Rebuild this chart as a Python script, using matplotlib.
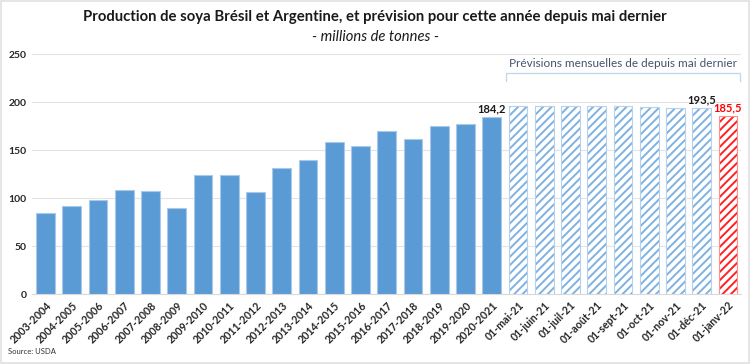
import matplotlib
matplotlib.use("Agg")
import matplotlib.pyplot as plt
from matplotlib.patches import Rectangle

plt.rcParams['font.family'] = ['Lato', 'DejaVu Sans']

seasons = ["2003-2004", "2004-2005", "2005-2006", "2006-2007", "2007-2008",
           "2008-2009", "2009-2010", "2010-2011", "2011-2012", "2012-2013",
           "2013-2014", "2014-2015", "2015-2016", "2016-2017", "2017-2018",
           "2018-2019", "2019-2020", "2020-2021"]
season_values = [84, 92, 97.5, 108, 107, 89.6, 123.6, 124.3, 106.6, 131,
                 140, 158, 154.5, 170, 161, 175, 177, 184.2]

forecast_months = ["01-mai-21", "01-juin-21", "01-juil-21", "01-août-21",
                   "01-sept-21", "01-oct-21", "01-nov-21", "01-déc-21"]
forecast_values = [196, 196, 196, 196, 196, 195, 194, 193.5]

latest_month = "01-janv-22"
latest_value = 185.5

yticks = [0, 50, 100, 150, 200, 250]

fig = plt.figure(figsize=(7.5, 3.64), dpi=100)
ax = fig.add_axes([0.0432, 0.1923, 0.945, 0.6593])

plt.rcParams['hatch.linewidth'] = 1.4

n_s = len(seasons)
n_f = len(forecast_months)
x_s = list(range(n_s))
x_f = list(range(n_s, n_s + n_f))
x_l = n_s + n_f
w = 0.72

ax.bar(x_s, season_values, width=w, color="#5b9bd5", edgecolor="#a9c9ea",
       linewidth=0.8, zorder=3)
ax.bar(x_f, forecast_values, width=w, color="white", edgecolor="#7fb2e0",
       hatch="////", linewidth=0.0, zorder=3)
ax.bar(x_f, forecast_values, width=w, color="none", edgecolor="#b4d1ee",
       linewidth=0.8, zorder=4)
ax.bar([x_l], [latest_value], width=w, color="white", edgecolor="#ff2020",
       hatch="////", linewidth=0.0, zorder=3)
ax.bar([x_l], [latest_value], width=w, color="none", edgecolor="#ff9090",
       linewidth=0.8, zorder=4)

ax.set_xlim(-0.5, x_l + 0.5)
ax.set_ylim(0, 250)
ax.set_yticks(yticks)
ax.set_yticklabels([str(v) for v in yticks], fontsize=7.5, fontweight="bold",
                   color="#262626")
ax.yaxis.grid(True, color="#e3e3e3", linewidth=0.8, zorder=0)
ax.set_axisbelow(True)
for s in ax.spines.values():
    s.set_visible(False)
ax.spines['bottom'].set_visible(True)
ax.spines['bottom'].set_color("#d9d9d9")
ax.tick_params(axis='both', length=0, pad=4)

labels = seasons + forecast_months + [latest_month]
ax.set_xticks(range(len(labels)))
ax.set_xticklabels(labels, rotation=45, ha="right", rotation_mode="anchor",
                   fontsize=7.7, fontweight="bold", color="#262626")

def fmt(v):
    return f"{v:.1f}".replace(".", ",")

ax.text(x_s[-1], season_values[-1] + 3, fmt(season_values[-1]), ha="center",
        va="bottom", fontsize=8, fontweight="bold", color="#1a1a1a")
ax.text(x_f[-1], forecast_values[-1] + 3, fmt(forecast_values[-1]), ha="center",
        va="bottom", fontsize=8, fontweight="bold", color="#1a1a1a")
ax.text(x_l, latest_value + 3, fmt(latest_value), ha="center",
        va="bottom", fontsize=8, fontweight="bold", color="#ff0000")

# bracket with annotation
bx0, bx1 = x_f[0] - 0.45, x_l + 0.45
ax.text((bx0 + bx1) / 2, 240, "Prévisions mensuelles de depuis mai dernier",
        ha="center", va="center", fontsize=8.5, color="#44546a")
ax.plot([bx0, bx0, bx1, bx1], [222, 230, 230, 222], color="#bdd7ee",
        linewidth=0.9, clip_on=False, zorder=2)

fig.text(0.5, 0.952, "Production de soya Brésil et Argentine, et prévision pour cette année depuis mai dernier",
         ha="center", va="center", fontsize=10.7, fontweight="bold", color="#1a1a1a")
fig.text(0.5, 0.898, "- millions de tonnes -", ha="center", va="center",
         fontsize=10.6, style="italic", color="#1a1a1a")
fig.text(0.011, 0.035, "Source: USDA", ha="left", va="center", fontsize=5.5,
         color="#333333")

fig.patches.append(Rectangle((0.001, 0.003), 0.997, 0.994, transform=fig.transFigure,
                             fill=False, edgecolor="#e0e0e0", linewidth=1.2))

fig.savefig("out.png", dpi=100)
